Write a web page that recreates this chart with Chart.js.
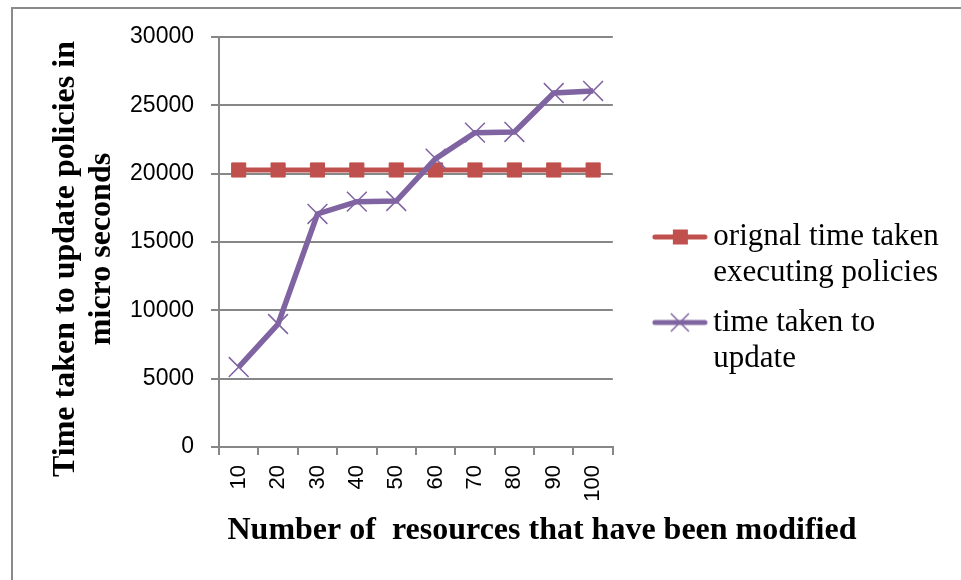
<!DOCTYPE html>
<html>
<head>
<meta charset="utf-8">
<title>Time taken to update policies</title>
<script src="https://cdn.jsdelivr.net/npm/chart.js@4.4.1/dist/chart.umd.min.js"></script>
<style>
  html, body { margin: 0; padding: 0; background: #fff; overflow: hidden; }
  /* chart frame, cut off on the right and bottom like the picture */
  #frame { position: absolute; left: 11px; top: 7px; width: 1100px; height: 700px;
           border-left: 2px solid #8a8a8a; border-top: 2px solid #8a8a8a; }
  #wrap { position: absolute; left: 0; top: 0; width: 961px; height: 580px; }
</style>
</head>
<body>
<div id="frame"></div>
<div id="wrap"><canvas id="lineChart"></canvas></div>
<script>
// data
const categories = ["10", "20", "30", "40", "50", "60", "70", "80", "90", "100"];
const originalTime = [20270, 20270, 20270, 20270, 20270, 20270, 20270, 20270, 20270, 20270];
const updateTime = [5850, 9000, 17050, 17950, 18000, 21100, 23000, 23050, 25900, 26050];
const seriesNames = ["orignal time taken executing policies", "time taken to update"];
const legendLines = [["orignal time taken", "executing policies"], ["time taken to", "update"]];
const yTitleLines = ["Time taken to update policies in", "micro seconds"];
const xTitleText = "Number of  resources that have been modified";

const red = "#C0504D";
const purple = "#8064A2";
const axisGray = "#878787";

// legend sample: line with the marker in the middle (drawn in the right part of the image)
function legendIcon(color, marker) {
  const c = document.createElement("canvas");
  c.width = 92;
  c.height = 24;
  const g = c.getContext("2d");
  g.strokeStyle = color;
  g.lineWidth = 5;
  g.lineCap = "round";
  g.beginPath();
  g.moveTo(39, 12);
  g.lineTo(89, 12);
  g.stroke();
  if (marker === "rect") {
    g.fillStyle = color;
    g.fillRect(57, 4.5, 15, 15);
  } else {
    g.lineWidth = 1.5;
    g.lineCap = "butt";
    g.beginPath();
    g.moveTo(55, 3); g.lineTo(73, 21);
    g.moveTo(73, 3); g.lineTo(55, 21);
    g.stroke();
  }
  return c;
}
const legendIcons = [legendIcon(red, "rect"), legendIcon(purple, "cross")];

// axis titles are centred on the whole chart (Excel style), not on the plot area
const axisTitlesPlugin = {
  id: "axisTitles",
  afterDraw(chart, args, opts) {
    const ctx = chart.ctx;
    ctx.save();
    ctx.font = opts.font;
    ctx.fillStyle = opts.color;
    ctx.textAlign = "center";
    ctx.textBaseline = "middle";
    ctx.fillText(opts.x.text, opts.x.cx, opts.x.cy);
    opts.y.text.forEach((line, i) => {
      ctx.save();
      ctx.translate(opts.y.cx[i], opts.y.cy[i]);
      ctx.rotate(-Math.PI / 2);
      ctx.fillText(line, 0, 0);
      ctx.restore();
    });
    ctx.restore();
  }
};

const lineChart = document.querySelector("#lineChart");
const myChart = new Chart(lineChart, {
  type: "line",
  data: {
    labels: categories,
    datasets: [
      {
        label: seriesNames[0],
        data: originalTime,
        borderColor: red,
        backgroundColor: red,
        borderWidth: 5,
        pointStyle: "rect",
        pointRadius: 10,
        pointBorderWidth: 1,
        order: 1,
      },
      {
        label: seriesNames[1],
        data: updateTime,
        borderColor: purple,
        backgroundColor: purple,
        borderWidth: 5.5,
        pointStyle: "crossRot",
        pointRadius: 14,
        pointBorderWidth: 1.5,
        order: 0,
      },
    ],
  },
  options: {
    responsive: true,
    maintainAspectRatio: false,
    animation: false,
    layout: {
      padding: { left: 30, top: 37, right: 13, bottom: 16 },
    },
    plugins: {
      tooltip: { enabled: false },
      legend: {
        position: "right",
        maxWidth: 400,
        labels: {
          usePointStyle: true,
          pointStyleWidth: 72,
          padding: 13,
          color: "#000",
          font: { family: "'Liberation Serif'", size: 31, lineHeight: 1.17 },
          generateLabels: (chart) =>
            chart.data.datasets.map((ds, i) => ({
              text: legendLines[i],
              fillStyle: ds.borderColor,
              strokeStyle: ds.borderColor,
              lineWidth: 0,
              pointStyle: legendIcons[i],
              fontColor: "#000",
              hidden: !chart.isDatasetVisible(i),
              datasetIndex: i,
            })),
        },
      },
      axisTitles: {
        color: "#000",
        font: "bold 32px 'Liberation Serif'",
        x: { text: xTitleText, cx: 542, cy: 531 },
        y: { text: yTitleLines, cx: [66, 102], cy: [259, 249] },
      },
    },
    scales: {
      x: {
        offset: true,
        grid: { offset: true, drawOnChartArea: false, tickLength: 8, color: axisGray, lineWidth: 2 },
        border: { color: axisGray, width: 2 },
        ticks: {
          autoSkip: false,
          minRotation: 90,
          maxRotation: 90,
          padding: 10,
          color: "#000",
          font: { family: "'Liberation Sans'", size: 22 },
        },
        // leave room under the labels for the axis title
        afterFit: (axis) => { axis.height = 117; },
      },
      y: {
        min: 0,
        max: 30000,
        ticks: {
          stepSize: 5000,
          format: { useGrouping: false },
          padding: 17,
          color: "#000",
          font: { family: "'Liberation Sans'", size: 23 },
        },
        grid: { color: axisGray, lineWidth: 2, tickLength: 8 },
        border: { color: axisGray, width: 2 },
        // room on the left for the rotated title
        afterFit: (axis) => { axis.width = 189; },
      },
    },
  },
  plugins: [axisTitlesPlugin],
});
</script>
</body>
</html>
